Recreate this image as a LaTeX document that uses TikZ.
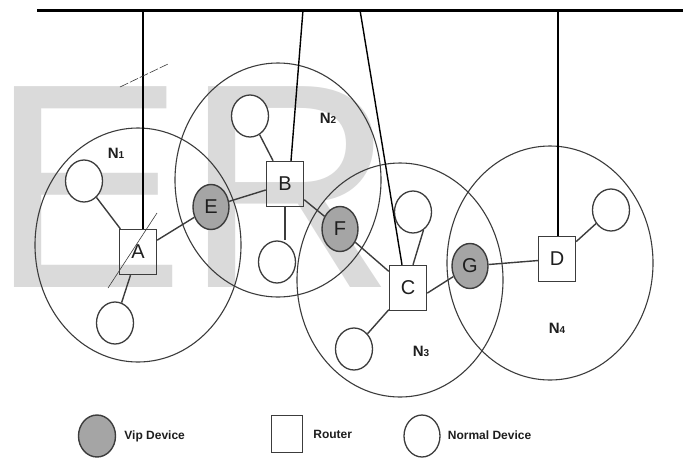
\documentclass[tikz,border=0pt]{standalone}
\usepackage{fontspec}
\setmainfont{Liberation Sans}
\usetikzlibrary{positioning, shapes.geometric}
\definecolor{wmgray}{RGB}{218,218,218}
\definecolor{vipgray}{RGB}{165,165,165}
\definecolor{edgegray}{RGB}{60,60,60}
\definecolor{inkgray}{RGB}{30,30,30}

\begin{document}
\begin{tikzpicture}[x=1pt, y=-1pt,
    watermark/.style={text=wmgray, inner sep=0pt, anchor=base west, font=\fontsize{292}{292}\selectfont},
    cluster/.style={ellipse, draw=edgegray, line width=1.1pt, minimum width=206pt, minimum height=234pt, inner sep=0pt},
    vip/.style={ellipse, draw=edgegray, fill=vipgray, line width=1.4pt, minimum width=36pt, minimum height=45pt, inner sep=0pt, text=inkgray, font=\fontsize{20}{20}\selectfont},
    normal/.style={ellipse, draw=edgegray, fill=white, line width=1.3pt, minimum width=37pt, minimum height=42pt, inner sep=0pt},
    router/.style={rectangle, draw=edgegray, line width=1.4pt, minimum width=37pt, minimum height=45pt, inner sep=0pt, text=inkgray, font=\fontsize{20}{20}\selectfont},
    netname/.style={inner sep=0pt, text=inkgray, font=\fontsize{15}{15}\selectfont\bfseries},
    legendtext/.style={inner sep=0pt, anchor=west, text=inkgray, font=\fontsize{12}{12}\selectfont\bfseries},
    link/.style={draw=edgegray, line width=1.4pt},
    uplink/.style={draw=black, line width=1.4pt},
    bus/.style={draw=black, line width=3pt},
    slash/.style={draw=edgegray, line width=0.6pt}
]
\useasboundingbox (0,0) rectangle (688,459);
\node[watermark] (wm) at (-10,287) {ER};

\node[cluster] (n1) at (138,245) {};
\node[cluster] (n2) at (278,180) {};
\node[cluster] (n3) at (400,280) {};
\node[cluster] (n4) at (550,263) {};
\node[netname] (n1name) at (116,153) {N{\fontsize{10}{10}\selectfont 1}};
\node[netname] (n2name) at (328,118) {N{\fontsize{10}{10}\selectfont 2}};
\node[netname] (n3name) at (421,351) {N{\fontsize{10}{10}\selectfont 3}};
\node[netname] (n4name) at (557,328) {N{\fontsize{10}{10}\selectfont 4}};

\node[router] (A) at (138,252) {A};
\node[router] (B) at (285,184) {B};
\node[router] (C) at (408,288) {C};
\node[router] (D) at (557,259) {D};
\node[vip] (E) at (211,207) {E};
\node[vip] (F) at (340,229) {F};
\node[vip] (G) at (470,266) {G};
\node[normal] (na1) at (84,181) {};
\node[normal] (na2) at (115,323) {};
\node[normal] (nb1) at (250,116) {};
\node[normal] (nb2) at (277,262) {};
\node[normal] (nc1) at (413,212) {};
\node[normal] (nc2) at (354,349) {};
\node[normal] (nd1) at (611,210) {};

\coordinate (busL) at (37,10);
\coordinate (busR) at (683,10);
\coordinate (tapA) at (143,10);
\coordinate (tapB) at (303,10);
\coordinate (tapC) at (360,10);
\coordinate (tapD) at (558,10);
\draw[bus] (busL) -- (busR);
\draw[uplink] (tapA) -- (tapA |- A.north);
\draw[uplink] (tapB) -- ([xshift=6pt]B.north);
\draw[uplink] (tapC) -- ([xshift=-6pt]C.north);
\draw[uplink] (tapD) -- (tapD |- D.north);

\draw[link] (na1) -- (A);
\draw[link] (A) -- (na2);
\draw[link] (A) -- (E);
\draw[link] (E) -- (B);
\draw[link] (nb1) -- (B);
\draw[link] (B.south) -- (B.south |- nb2.north);
\draw[link] (B) -- (F);
\draw[link] (F) -- (C);
\draw[link] ([xshift=5pt]C.north) -- (nc1.-60);
\draw[link] (C) -- (nc2);
\draw[link] (C.-15) -- (G);
\draw[link] (G) -- (D);
\draw[link] (D) -- (nd1);

\coordinate (s1a) at (120,87);
\coordinate (s1b) at (168,64);
\coordinate (s2a) at (108,288);
\coordinate (s2b) at (157,213);
\draw[slash, dash pattern=on 9pt off 2pt] (s1a) -- (s1b);
\draw[slash] (s2a) -- (s2b);

\node[vip, minimum width=37pt, minimum height=42pt] (lvip) at (97,436) {};
\node[legendtext, right=8pt of lvip] (lviptext) {Vip Device};
\node[router, minimum width=31pt, minimum height=37pt] (lrouter) at (287,434) {};
\node[legendtext, right=10pt of lrouter] (lroutertext) {Router};
\node[normal, minimum width=36pt, minimum height=42pt] (lnormal) at (422,436) {};
\node[legendtext, right=7pt of lnormal, yshift=1pt] (lnormaltext) {Normal Device};
\end{tikzpicture}
\end{document}
